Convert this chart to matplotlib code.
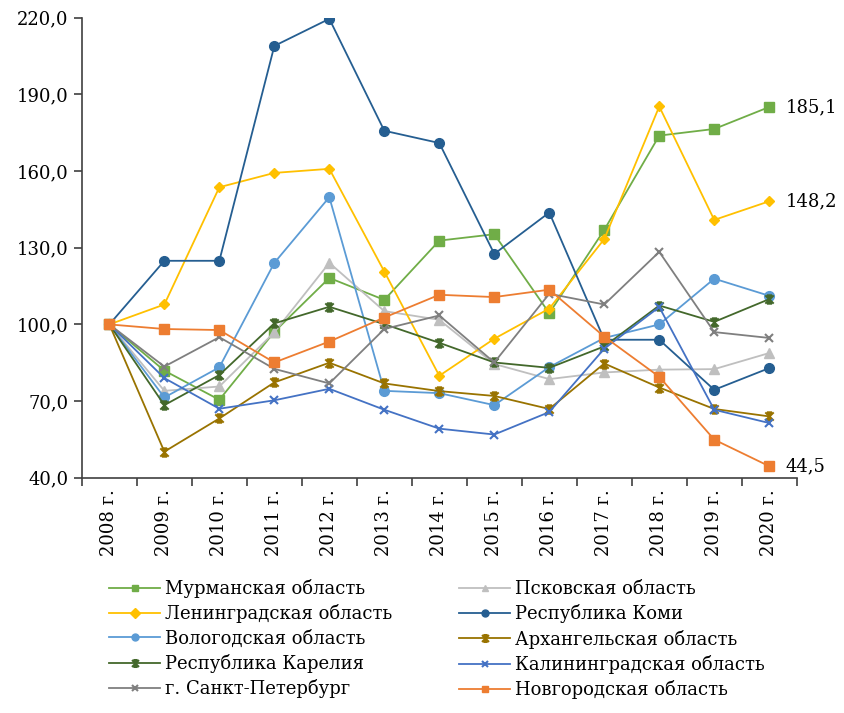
import matplotlib
matplotlib.use("Agg")
import matplotlib.pyplot as plt
from matplotlib.path import Path

plt.rcParams['font.family'] = ['DejaVu Serif']

# Данные (индекс, 2008 г. = 100)
years = ['2008 г.', '2009 г.', '2010 г.', '2011 г.', '2012 г.', '2013 г.', '2014 г.',
         '2015 г.', '2016 г.', '2017 г.', '2018 г.', '2019 г.', '2020 г.']

murmansk = [100, 81.9, 70.5, 97.1, 118.2, 109.6, 132.8, 135.3, 104.4, 137.0, 173.9, 176.5, 185.1]
pskov = [100, 74.0, 75.7, 96.9, 124.1, 105.2, 101.8, 84.5, 78.6, 81.2, 82.3, 82.5, 88.8]
leningrad = [100, 107.8, 153.7, 159.3, 160.9, 120.7, 79.9, 94.4, 106.2, 133.4, 185.3, 140.9, 148.2]
komi = [100, 124.9, 124.9, 209.0, 219.6, 175.8, 171.0, 127.6, 143.8, 94.0, 94.0, 74.4, 82.9]
vologda = [100, 71.4, 83.2, 124.1, 149.8, 74.0, 73.1, 68.4, 83.3, 94.7, 100.0, 117.9, 111.2]
arkhangelsk = [100, 50.2, 63.2, 77.3, 85.0, 76.9, 73.9, 72.0, 66.9, 84.7, 75.3, 66.9, 64.0]
karelia = [100, 68.4, 80.2, 100.4, 106.9, 100.1, 92.8, 85.1, 83.0, 91.4, 107.4, 101.0, 109.9]
kaliningrad = [100, 79.0, 67.0, 70.3, 74.8, 66.6, 59.2, 56.9, 65.7, 90.5, 106.8, 66.6, 61.4]
spb = [100, 83.5, 95.0, 82.6, 76.9, 98.2, 103.5, 85.1, 112.0, 107.8, 128.4, 97.0, 94.7]
novgorod = [100, 98.2, 97.8, 85.1, 93.3, 102.7, 111.6, 110.7, 113.6, 95.2, 79.5, 54.9, 44.5]

# маркер "звёздочка" как в Excel
star = Path([(-1, -1), (1, 1), (-1, 1), (1, -1), (0, -1), (0, 1),
             (-0.6, 1), (0.6, 1), (-0.6, -1), (0.6, -1)],
            [Path.MOVETO, Path.LINETO] * 5)

series = [
    ('Мурманская область', murmansk, '#70AD47', 's', 7),
    ('Псковская область', pskov, '#BFBFBF', '^', 7),
    ('Ленинградская область', leningrad, '#FFC000', 'D', 5),
    ('Республика Коми', komi, '#255E91', 'o', 7),
    ('Вологодская область', vologda, '#5B9BD5', 'o', 7),
    ('Архангельская область', arkhangelsk, '#997300', star, 6),
    ('Республика Карелия', karelia, '#43682B', star, 6),
    ('Калининградская область', kaliningrad, '#4472C4', 'x', 6),
    ('г. Санкт-Петербург', spb, '#7F7F7F', 'x', 6),
    ('Новгородская область', novgorod, '#ED7D31', 's', 7),
]

fig = plt.figure(figsize=(8.44, 7.13), dpi=100)
ax = fig.add_axes([0.097, 0.33, 0.847, 0.645])

x = list(range(len(years)))
handles = {}
for name, vals, color, marker, ms in series:
    stroked = marker == 'x' or isinstance(marker, Path)
    line, = ax.plot(x, vals, color=color, linewidth=1.3, marker=marker, markersize=ms,
                    markeredgewidth=1.5 if stroked else 1,
                    markerfacecolor='none' if stroked else color,
                    markeredgecolor=color, label=name)
    handles[name] = line

# подписи последних значений
for vals in (murmansk, leningrad, novgorod):
    ax.annotate(f"{vals[-1]:.1f}".replace('.', ','), (x[-1], vals[-1]),
                xytext=(12, 0), textcoords='offset points', va='center', fontsize=13)

ax.set_ylim(40, 220)
ax.set_xlim(-0.5, len(years) - 0.5)
yt = [40, 70, 100, 130, 160, 190, 220]
ax.set_yticks(yt, [f"{v:.1f}".replace('.', ',') for v in yt], fontsize=13)
ax.set_xticks([i - 0.5 for i in range(len(years) + 1)], [''] * (len(years) + 1))
ax.set_xticks(x, years, minor=True, rotation=90, fontsize=13)
ax.tick_params(axis='x', which='minor', length=0, pad=8)
ax.tick_params(axis='both', which='major', direction='out', length=6, width=1.2, color='#404040')
for s in ('top', 'right'):
    ax.spines[s].set_visible(False)
for s in ('left', 'bottom'):
    ax.spines[s].set_color('#404040')
    ax.spines[s].set_linewidth(1.2)

order = ['Мурманская область', 'Ленинградская область', 'Вологодская область',
         'Республика Карелия', 'г. Санкт-Петербург', 'Псковская область',
         'Республика Коми', 'Архангельская область', 'Калининградская область',
         'Новгородская область']
leg = fig.legend([handles[n] for n in order], order, ncol=2, frameon=False,
                 loc='upper left', bbox_to_anchor=(0.121, 0.198), fontsize=13,
                 handlelength=2.8, handletextpad=0.3, columnspacing=3.7,
                 labelspacing=0.35, borderaxespad=0)
for h in leg.legend_handles:
    h.set_markersize(5)

fig.savefig('out.png', dpi=100)
